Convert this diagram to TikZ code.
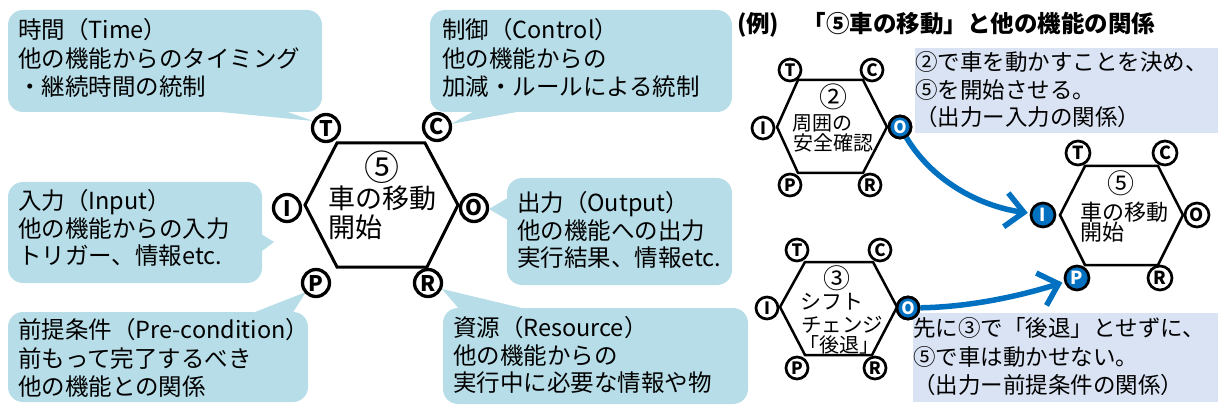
\documentclass[tikz,border=0pt]{standalone}
\usepackage{fontspec}
\setmainfont{Noto Sans CJK JP}
\usetikzlibrary{arrows.meta}
\definecolor{callout}{HTML}{B7DEE8}
\definecolor{notebg}{HTML}{DAE3F3}
\definecolor{arrblue}{HTML}{0070C0}
\newcommand{\fsA}{\fontsize{23.5}{28.5}\selectfont}
\newcommand{\fsB}{\fontsize{23.5}{27.5}\selectfont}
\tikzset{
  co/.style={fill=callout, draw=none},
  nb/.style={fill=notebg, draw=none},
  hexbig/.style={draw=black, line width=3pt, fill=white},
  hexsm/.style={draw=black, line width=2.5pt, fill=white},
  txt/.style={inner sep=0pt, outer sep=0pt},
  bigc/.style={circle, draw=black, fill=white, line width=3.3pt, minimum size=27pt, inner sep=0pt, font=\fontsize{21.5}{21.5}\selectfont\bfseries},
  midc/.style={circle, draw=black, fill=white, line width=2.7pt, minimum size=24pt, inner sep=0pt, font=\fontsize{18}{18}\selectfont\bfseries},
  smc/.style={circle, draw=black, fill=white, line width=2.7pt, minimum size=22pt, inner sep=0pt, font=\fontsize{17}{17}\selectfont\bfseries},
  bluec/.style={fill=arrblue, text=white},
  arr/.style={draw=arrblue, line width=5.5pt, -{Straight Barb[length=18pt,width=34pt]}, shorten >=2pt}
}
\begin{document}
\begin{tikzpicture}[x=1pt,y=-1pt]
\useasboundingbox (0,0) rectangle (1218,406);
% ---------- callouts ----------
\fill[co, rounded corners=15] (8,10) rectangle (322,112);
\fill[co] (200,110) -- (282,110) -- (313,121) -- cycle;
\fill[co, rounded corners=15] (430,10) rectangle (732,112);
\fill[co] (476,110) -- (528,110) -- (451,124) -- cycle;
\fill[co, rounded corners=15] (8,182) rectangle (262,283);
\fill[co] (258,232) -- (258,254) -- (274,242) -- cycle;
\fill[co, rounded corners=15] (8,312) rectangle (308,402);
\fill[co] (250,314) -- (292,314) -- (306,292) -- cycle;
\fill[co, rounded corners=15] (507,178) rectangle (732,285);
\fill[co] (511,196) -- (511,222) -- (489,209) -- cycle;
\fill[co, rounded corners=15] (443,308) rectangle (748,404);
\fill[co] (460,310) -- (530,310) -- (442,289) -- cycle;
% ---------- note boxes ----------
\fill[nb] (915,48) rectangle (1218,133);
\fill[nb] (913,313) rectangle (1218,402);
% ---------- callout texts ----------
\node[txt, anchor=west, align=left, font=\fsA] (tTime) at (18,58) {時間（Time）\\他の機能からのタイミング\\・継続時間の統制};
\node[txt, anchor=west, align=left, font=\fsA] (tCtrl) at (442,58) {制御（Control）\\他の機能からの\\加減・ルールによる統制};
\node[txt, anchor=west, align=left, font=\fsB] (tIn) at (18,228) {入力（Input）\\他の機能からの入力\\トリガー、情報etc.};
\node[txt, anchor=west, align=left, font=\fsA] (tPre) at (18,358) {前提条件（Pre-condition）\\前もって完了するべき\\他の機能との関係};
\node[txt, anchor=west, align=left, font=\fsB] (tOut) at (517,230) {出力（Output）\\他の機能への出力\\実行結果、情報etc.};
\node[txt, anchor=west, align=left, font=\fsB] (tRes) at (453,355) {資源（Resource）\\他の機能からの\\実行中に必要な情報や物};
% ---------- main hexagon ----------
\draw[hexbig] (337,143) -- (425,143) -- (458,205) -- (427,267) -- (337,267) -- (305,205) -- cycle;
\node[txt, font=\fontsize{35}{35}\selectfont] (m5) at (382,167) {⑤};
\node[txt, anchor=west, font=\fontsize{27}{27}\selectfont] (m5a) at (328,198) {車の移動};
\node[txt, anchor=west, font=\fontsize{27}{27}\selectfont] (m5b) at (328,227) {開始};
\node[bigc] (mT) at (326,128) {T};
\node[bigc] (mC) at (437,127) {C};
\node[bigc] (mI) at (287,208) {I};
\node[bigc] (mO) at (474,208) {O};
\node[bigc] (mP) at (316,283) {P};
\node[bigc] (mR) at (428,283) {R};
% ---------- title ----------
\node[txt, anchor=west, font=\fontsize{23.5}{23.5}\selectfont\bfseries] (title) at (737,25) {(例)　「⑤車の移動」と他の機能の関係};
% ---------- hexagon 2 ----------
\draw[hexsm] (798,80) -- (863,80) -- (887,127) -- (863,173) -- (798,173) -- (777,127) -- cycle;
\node[txt, font=\fontsize{28}{28}\selectfont] (h2n) at (833,97) {②};
\node[txt, anchor=west, font=\fontsize{20}{20}\selectfont] (h2a) at (792,123) {周囲の};
\node[txt, anchor=west, font=\fontsize{20}{20}\selectfont] (h2b) at (793,143) {安全確認};
% ---------- hexagon 3 ----------
\draw[hexsm] (805,262) -- (873,262) -- (897,307) -- (872,355) -- (805,355) -- (780,307) -- cycle;
\node[txt, font=\fontsize{27}{27}\selectfont] (h3n) at (837,278) {③};
\node[txt, anchor=west, font=\fontsize{21}{21}\selectfont] (h3a) at (800,302) {シフト};
\node[txt, anchor=west, font=\fontsize{20.5}{20.5}\selectfont] (h3b) at (801,325) {チェンジ};
\node[txt, anchor=west, font=\fontsize{20}{20}\selectfont] (h3c) at (799,345) {「後退」};
% ---------- hexagon 5 (right) ----------
\draw[hexsm] (1085,166) -- (1158,166) -- (1183,215) -- (1158,265) -- (1085,265) -- (1060,215) -- cycle;
\node[txt, font=\fontsize{27}{27}\selectfont] (h5n) at (1121,183) {⑤};
\node[txt, anchor=west, font=\fontsize{22}{22}\selectfont] (h5a) at (1080,212) {車の移動};
\node[txt, anchor=west, font=\fontsize{22}{22}\selectfont] (h5b) at (1080,232) {開始};
% ---------- arrows (under circles) ----------
\node[smc, bluec] (c2O) at (900,127) {O};
\node[smc, bluec] (c3O) at (908,308) {O};
\node[midc, bluec] (c5I) at (1043,215) {I};
\node[midc, bluec] (c5P) at (1077,278) {P};
\draw[arr] (c2O) .. controls (935,185) and (985,207) .. (c5I);
\draw[arr] (c3O) .. controls (970,307) and (1020,296) .. (c5P);
% ---------- small circles ----------
\node[smc] (c2T) at (790,70) {T};
\node[smc] (c2C) at (872,70) {C};
\node[smc] (c2I) at (763,128) {I};
\node[smc, bluec] at (c2O) {O};
\node[smc] (c2P) at (790,185) {P};
\node[smc] (c2R) at (870,185) {R};
\node[smc] (c3T) at (797,250) {T};
\node[smc] (c3C) at (880,250) {C};
\node[smc] (c3I) at (767,308) {I};
\node[smc, bluec] at (c3O) {O};
\node[smc] (c3P) at (797,368) {P};
\node[smc] (c3R) at (875,368) {R};
\node[midc] (c5T) at (1078,153) {T};
\node[midc] (c5C) at (1165,153) {C};
\node[midc] (c5O) at (1197,215) {O};
\node[midc] (c5R) at (1160,278) {R};
% ---------- note texts ----------
\node[txt, anchor=west, align=left, font=\fontsize{22.5}{27.5}\selectfont] (n1) at (915,90) {②で車を動かすことを決め、\\⑤を開始させる。\\（出力ー入力の関係）};
\node[txt, anchor=west, align=left, font=\fontsize{22.5}{28.5}\selectfont] (n2) at (913,357) {先に③で「後退」とせずに、\\⑤で車は動かせない。\\（出力ー前提条件の関係）};
\end{tikzpicture}
\end{document}
